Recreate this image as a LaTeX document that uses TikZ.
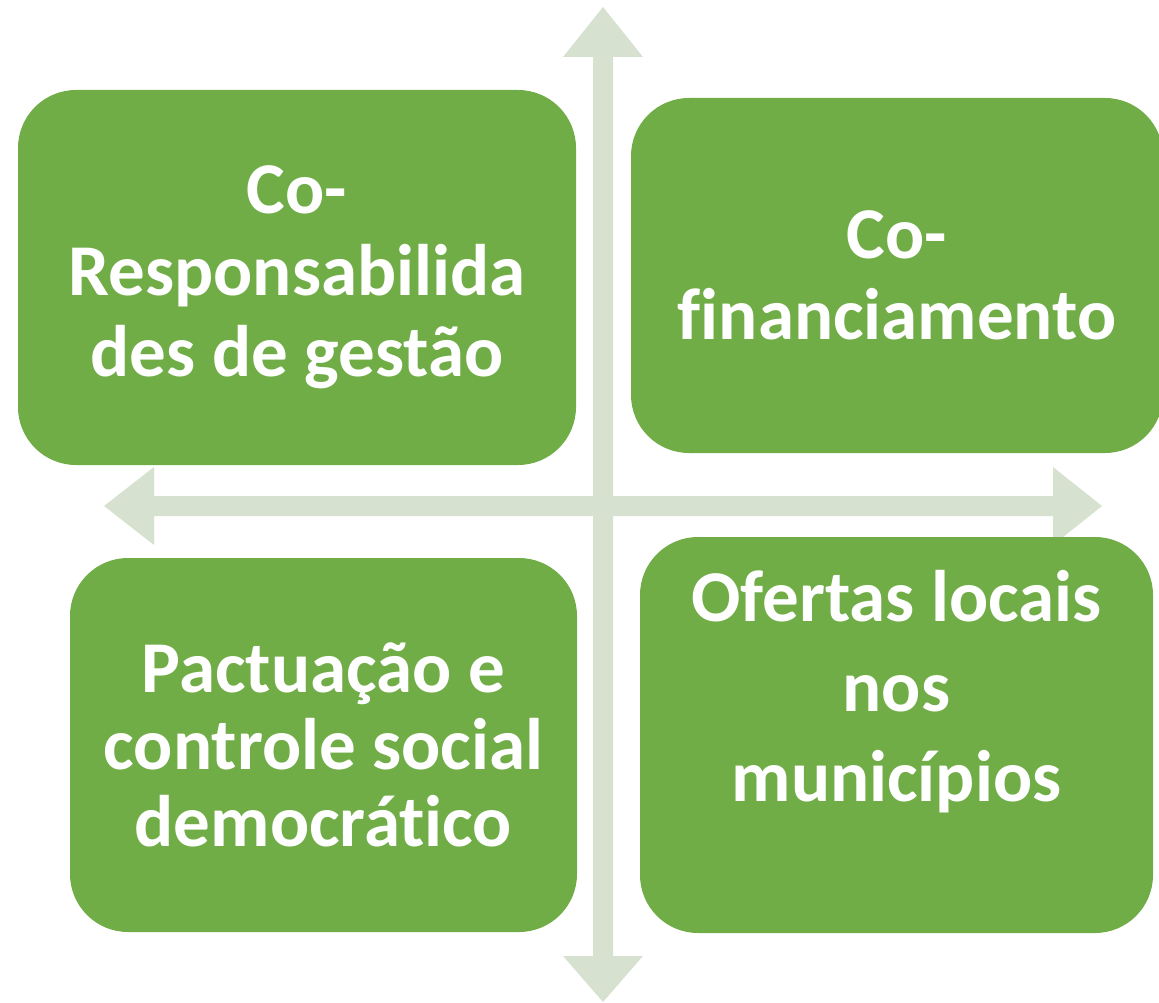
\documentclass[tikz,border=0pt]{standalone}
\usepackage{fontspec}
\setmainfont{Carlito}[RawFeature={-liga}]
\usepackage{tikz}
\usetikzlibrary{positioning}
\definecolor{quadgreen}{HTML}{70AD47}
\definecolor{axisgreen}{HTML}{D6E2CF}
\newcommand{\quadfont}[1]{\bfseries\fontsize{73}{#1}\selectfont}

\begin{document}
\begin{tikzpicture}[x=1pt,y=-1pt,
    quad/.style={fill=quadgreen, rounded corners=58pt, inner sep=0pt},
    quadtext/.style={text=white, align=center, font=\quadfont{#1}, inner sep=0pt},
    quadtext/.default=81.5]
  \useasboundingbox (0,0) rectangle (1159,1003);
  \fill[axisgreen] (603,7) -- (643,57) -- (613,57) -- (613,956) -- (643,956)
    -- (603,1002) -- (563,956) -- (593,956) -- (593,57) -- (563,57) -- cycle;
  \fill[axisgreen] (104,506) -- (154,467) -- (154,496) -- (1053,496) -- (1053,467)
    -- (1102,506) -- (1053,545) -- (1053,516) -- (154,516) -- (154,545) -- cycle;
  \node[quad, minimum width=558, minimum height=375] (gestao) at (297,277.5) {};
  \node[quad, minimum width=532, minimum height=355] (financ) at (897,275.5) {};
  \node[quad, minimum width=507, minimum height=374] (pacto) at (323.5,745) {};
  \node[quad, minimum width=513, minimum height=396] (ofertas) at (896.5,735) {};
  \node[quadtext] at (gestao) {Co-\\Responsabilida\\des de gestão};
  \node[quadtext] at (financ) {Co-\\financiamento};
  \node[quadtext=77] at (pacto) {Pactuação e\\controle social\\democrático};
  \node[quadtext=90, below=33pt of ofertas.north] {Ofertas locais\\nos\\municípios};
\end{tikzpicture}
\end{document}
